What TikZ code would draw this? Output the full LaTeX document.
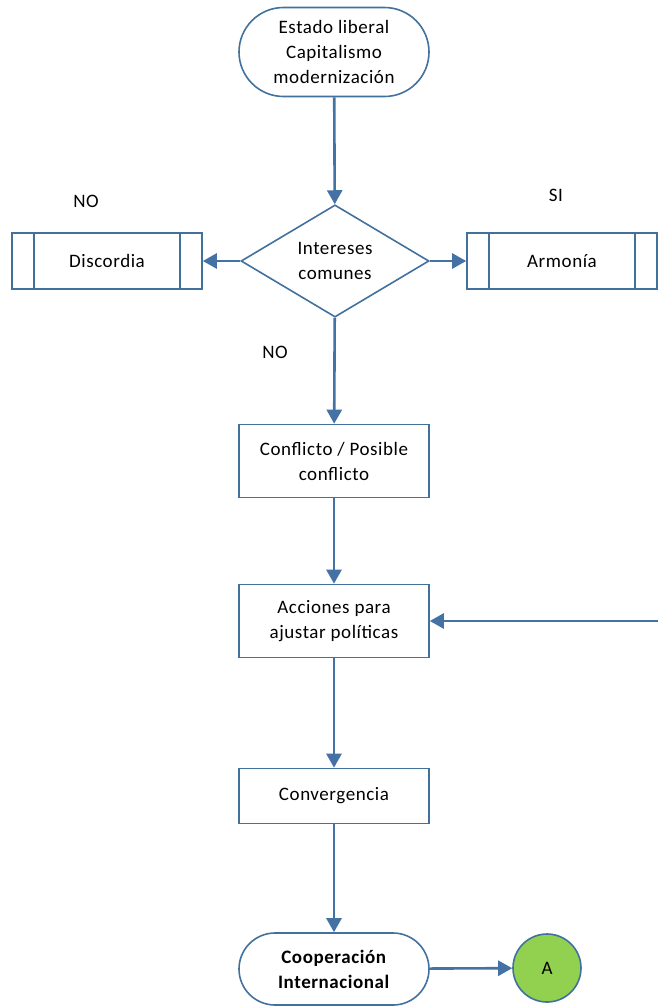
\documentclass[tikz,border=0pt]{standalone}
\usepackage{fontspec}
\setmainfont{Carlito}[LetterSpace=3]
\usetikzlibrary{shapes.geometric,shapes.misc,arrows.meta}
\definecolor{bordeAzul}{HTML}{41719C}
\definecolor{flechaAzul}{HTML}{4472A4}
\definecolor{verdeA}{HTML}{92D050}
\tikzstyle{tS}=[rounded rectangle,draw=bordeAzul,line width=1.6pt,fill=white,minimum width=190pt,inner sep=0pt,font=\fontsize{19}{25}\selectfont,align=center]
\tikzstyle{pS}=[rectangle,draw=bordeAzul,line width=1.6pt,fill=white,minimum width=190pt,inner sep=0pt,font=\fontsize{19}{25}\selectfont,align=center]
\tikzstyle{dS}=[diamond,draw=bordeAzul,line width=1.6pt,fill=white,minimum width=188pt,minimum height=110pt,inner sep=0pt,font=\fontsize{19}{25}\selectfont,align=center]
\tikzstyle{cS}=[circle,draw=bordeAzul,line width=1.6pt,fill=verdeA,minimum size=68pt,inner sep=0pt,font=\fontsize{19}{25}\selectfont]
\tikzstyle{eS}=[draw=flechaAzul,line width=2.6pt,-{Triangle[length=14pt,width=15pt]}]
\tikzstyle{lS}=[inner sep=0pt,font=\fontsize{19}{25}\selectfont]

\begin{document}
\begin{tikzpicture}[x=1pt,y=-1pt]
    \useasboundingbox (0,0) rectangle (658,1007);
    \draw (334,52) node[tS,minimum height=89pt] (estado) {Estado liberal\\Capitalismo\\modernización};
    \draw (335,261) node[dS] (intereses) {Intereses\\comunes};
    \draw (107,261) node[pS,minimum height=56pt] (discordia) {Discordia};
    \draw (562,261) node[pS,minimum height=56pt] (armonia) {Armonía};
    \draw (334,461) node[pS,minimum height=73pt] (conflicto) {Conflicto / Posible\\conflicto};
    \draw (334,621) node[pS,minimum height=73pt] (acciones) {Acciones para\\ajustar políticas};
    \draw (334,796) node[pS,minimum height=55pt] (convergencia) {Convergencia};
    \draw (334,969) node[tS,minimum height=72pt] (cooperacion) {\textbf{Cooperación}\\\textbf{Internacional}};
    \draw (547,968) node[cS] (circA) {A};
    \coordinate (retorno) at (658,621);
    % lineas internas de proceso
    \draw[bordeAzul,line width=1.6pt] ([xshift=23pt]discordia.north west) -- ([xshift=23pt]discordia.south west)
        ([xshift=-23pt]discordia.north east) -- ([xshift=-23pt]discordia.south east);
    \draw[bordeAzul,line width=1.6pt] ([xshift=23pt]armonia.north west) -- ([xshift=23pt]armonia.south west)
        ([xshift=-23pt]armonia.north east) -- ([xshift=-23pt]armonia.south east);
    % etiquetas
    \draw (86,201) node[lS] (noIzq) {NO};
    \draw (556,195) node[lS] (siDer) {SI};
    \draw (275,352) node[lS] (noAbajo) {NO};
    \path
        (estado) edge[eS] (intereses)
        (intereses) edge[eS] (discordia)
        (intereses) edge[eS] (armonia)
        (intereses) edge[eS] (conflicto)
        (conflicto) edge[eS] (acciones)
        (retorno) edge[eS] (acciones)
        (acciones) edge[eS] (convergencia)
        (convergencia) edge[eS] (cooperacion)
        (cooperacion) edge[eS] (circA)
    ;
\end{tikzpicture}
\end{document}
